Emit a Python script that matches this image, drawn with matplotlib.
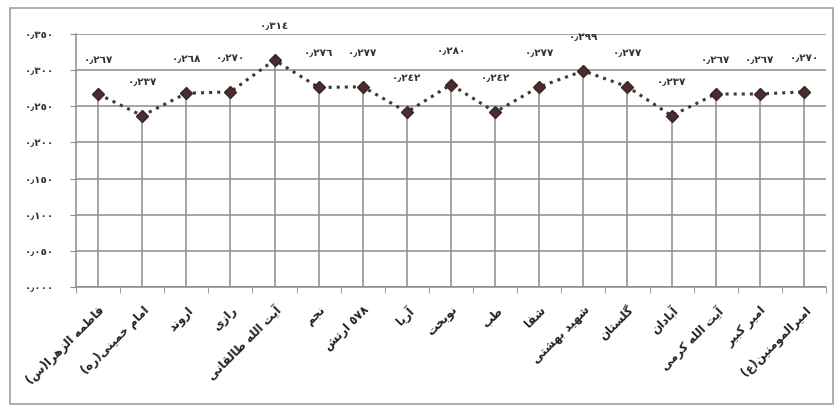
import numpy as np
import matplotlib
matplotlib.use('Agg')
import matplotlib.pyplot as plt
from matplotlib.patches import Rectangle

# داده‌ها
schools = ['فاطمه الزهرا(س)', 'امام خمینی(ره)', 'اروند', 'رازی', 'آیت الله طالقانی',
           'نجم', '٥٧٨ ارتش', 'آریا', 'نوبخت', 'طب', 'شفا', 'شهید بهشتی',
           'گلستان', 'آبادان', 'آیت الله کرمی', 'امیر کبیر', 'امیرالمومنین(ع)']
values = [0.267, 0.237, 0.268, 0.270, 0.314, 0.276, 0.277, 0.242, 0.280,
          0.242, 0.277, 0.299, 0.277, 0.237, 0.267, 0.267, 0.270]
yticks = [0.0, 0.05, 0.10, 0.15, 0.20, 0.25, 0.30, 0.35]

# حروف عربی/فارسی -> (منفرد, پایانی, آغازی, میانی) ؛ دو حرفی = فقط از راست می‌چسبد
forms = {
    'ا': (0xFE8D, 0xFE8E), 'آ': (0xFE81, 0xFE82), 'د': (0xFEA9, 0xFEAA),
    'ر': (0xFEAD, 0xFEAE), 'ز': (0xFEAF, 0xFEB0), 'و': (0xFEED, 0xFEEE),
    'ب': (0xFE8F, 0xFE90, 0xFE91, 0xFE92), 'پ': (0xFB56, 0xFB57, 0xFB58, 0xFB59),
    'ت': (0xFE95, 0xFE96, 0xFE97, 0xFE98), 'ج': (0xFE9D, 0xFE9E, 0xFE9F, 0xFEA0),
    'ح': (0xFEA1, 0xFEA2, 0xFEA3, 0xFEA4), 'خ': (0xFEA5, 0xFEA6, 0xFEA7, 0xFEA8),
    'س': (0xFEB1, 0xFEB2, 0xFEB3, 0xFEB4), 'ش': (0xFEB5, 0xFEB6, 0xFEB7, 0xFEB8),
    'ط': (0xFEC1, 0xFEC2, 0xFEC3, 0xFEC4), 'ع': (0xFEC9, 0xFECA, 0xFECB, 0xFECC),
    'ف': (0xFED1, 0xFED2, 0xFED3, 0xFED4), 'ق': (0xFED5, 0xFED6, 0xFED7, 0xFED8),
    'ک': (0xFB8E, 0xFB8F, 0xFB90, 0xFB91), 'گ': (0xFB92, 0xFB93, 0xFB94, 0xFB95),
    'ل': (0xFEDD, 0xFEDE, 0xFEDF, 0xFEE0), 'م': (0xFEE1, 0xFEE2, 0xFEE3, 0xFEE4),
    'ن': (0xFEE5, 0xFEE6, 0xFEE7, 0xFEE8), 'ه': (0xFEE9, 0xFEEA, 0xFEEB, 0xFEEC),
    'ی': (0xFBFC, 0xFBFD, 0xFBFE, 0xFBFF),
}
mirror = {'(': ')', ')': '('}


def shape(s):
    out = []
    for i, c in enumerate(s):
        if c not in forms:
            out.append(c)
            continue
        f = forms[c]
        prev = s[i-1] if i > 0 else ''
        nxt = s[i+1] if i < len(s)-1 else ''
        cp = prev in forms and len(forms[prev]) == 4
        cn = len(f) == 4 and nxt in forms
        if cp and cn:
            k = 3
        elif cp:
            k = 1
        elif cn:
            k = 2
        else:
            k = 0
        out.append(chr(f[k]))
    # ترتیب دیداری راست به چپ، اعداد چپ به راست
    vis = []
    run = ''
    for c in reversed(out):
        if c.isdigit():
            run = c + run
        else:
            if run:
                vis.append(run)
                run = ''
            vis.append(mirror.get(c, c))
    if run:
        vis.append(run)
    return ''.join(vis)


def fa_num(v):
    t = '%.3f' % v
    return ''.join('٫' if c == '.' else chr(0x0660 + int(c)) for c in t)


plt.rcParams['font.family'] = ['DejaVu Sans']

fig = plt.figure(figsize=(8.35, 4.08), dpi=100)
fig.patches.append(Rectangle((10/835, 1-404/408), 823/835, 396/408, transform=fig.transFigure,
                             fill=False, edgecolor='#a0a0a0', lw=1.2))
ax = fig.add_axes([76/835, 1-287/408, 750/835, 253/408])

x = np.arange(len(values))
ax.set_xlim(-0.5, len(values)-0.5)
ax.set_ylim(0, 0.35)

for yv in yticks:
    ax.axhline(yv, color='#8c8c8c', lw=1.1, zorder=1)
ax.vlines(x, 0, values, color='#8c8c8c', lw=1.1, zorder=1)
ax.plot(x, values, linestyle=':', color='#3a3a3a', lw=2.2, zorder=2)
ax.plot(x, values, linestyle='none', marker='D', markersize=6.5,
        color='#4a2e2e', markeredgecolor='#3a2525', zorder=3)

for xi, v in zip(x, values):
    ax.annotate(fa_num(v), (xi, v), xytext=(0, 24.5), textcoords='offset points',
                ha='center', va='center', fontsize=7.5, fontweight='bold', color='#333333')

ax.set_yticks(yticks)
ax.set_yticklabels([fa_num(v) for v in yticks], fontsize=7.5, fontweight='bold', color='#333333')
ax.tick_params(axis='y', length=4, color='#8c8c8c', pad=12)

ax.set_xticks(x)
ax.set_xticklabels([shape(s) for s in schools], rotation=45, ha='right', va='top',
                   rotation_mode='anchor', fontsize=8.5, fontweight='bold', color='#222222')
ax.tick_params(axis='x', which='major', length=0, pad=12)
ax.set_xticks(np.arange(-0.5, len(values)), minor=True)
ax.tick_params(axis='x', which='minor', length=4, color='#8c8c8c')

for s in ['top', 'right']:
    ax.spines[s].set_visible(False)
for s in ['left', 'bottom']:
    ax.spines[s].set_color('#8c8c8c')
    ax.spines[s].set_linewidth(1.1)

fig.savefig('out.png', dpi=100)
